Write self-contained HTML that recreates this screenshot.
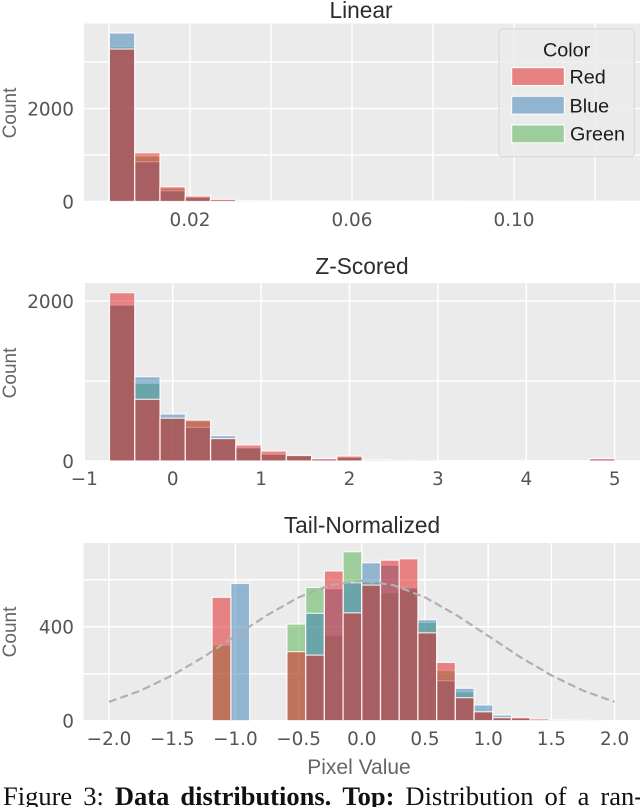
<!DOCTYPE html>
<html lang="en">
<head>
<meta charset="utf-8">
<title>Data distributions</title>
<style>
html,body{margin:0;padding:0;background:#fff;width:640px;height:807px;overflow:hidden}
svg{display:block;filter:blur(0.35px)}
.tick{font-family:"DejaVu Sans","Liberation Sans",sans-serif;font-size:18.4px;fill:#555}
.axis-title{font-family:"Liberation Sans",sans-serif;fill:#666}
.panel-title{font-family:"Liberation Sans",sans-serif;font-size:22.7px;fill:#2c2c2c;text-anchor:middle}
.legend-text{font-family:"Liberation Sans",sans-serif;font-size:19.8px;fill:#1c1c1c}
.caption{font-family:"Liberation Serif",serif;font-size:26.5px;word-spacing:4.4px;fill:#111}
</style>
</head>
<body>
<svg id="figure" xmlns="http://www.w3.org/2000/svg" width="640" height="807" viewBox="0 0 640 807">
  <g id="linear"></g>
  <g id="zscored"></g>
  <g id="tail"></g>

  <g>
    <rect x="499" y="29" width="135.3" height="127.7" rx="3.5" fill="#ebebeb" fill-opacity="0.85" stroke="#d6d6d6" stroke-width="1"/>
    <text class="legend-text" x="566.6" y="56.7" text-anchor="middle">Color</text>
    <rect x="511.7" y="67.7" width="52.6" height="17.8" fill="#e78282" stroke="#fff" stroke-width="1"/>
    <text class="legend-text" x="569.5" y="83.3">Red</text>
    <rect x="511.7" y="96.3" width="52.6" height="17.8" fill="#91b4d1" stroke="#fff" stroke-width="1"/>
    <text class="legend-text" x="569.5" y="112.4">Blue</text>
    <rect x="511.7" y="125" width="52.6" height="17.8" fill="#9ccd9a" stroke="#fff" stroke-width="1"/>
    <text class="legend-text" x="570" y="140.6">Green</text>
  </g>

  <text class="axis-title" x="359" y="774" font-size="21" text-anchor="middle">Pixel Value</text>
  <text class="caption" x="3" y="805" xml:space="preserve">Figure 3: <tspan font-weight="bold">Data distributions.</tspan> <tspan font-weight="bold">Top:</tspan> Distribution of a ran-</text>
</svg>

<script>
// ---- Linear panel data ----
const linearRed   = [3279, 1049, 318, 118, 47, 15, 4, 2, 1, 1, 1, 1, 1, 1, 0, 1, 0, 1, 0, 1];
const linearBlue  = [3623,  856, 232,  90, 35, 10, 3, 2, 1, 1, 0, 1, 1, 0, 1, 0, 1, 0, 0, 0];
const linearGreen = [3328,  978, 290, 105, 40, 12, 3, 2, 1, 1, 1, 0, 1, 1, 0, 0, 1, 0, 1, 0];
const linearXTicks = [0.02, 0.06, 0.10];
const linearXTickLabels = ["0.02", "0.06", "0.10"];
const linearXGrid = [0, 0.02, 0.04, 0.06, 0.08, 0.10, 0.12];
const linearYTicks = [0, 2000];
const linearYTickLabels = ["0", "2000"];
const linearYGrid = [0, 1000, 2000, 3000];

// ---- Z-scored panel data ----
const zRed   = [2104, 771, 535, 512, 280, 200, 125, 70, 28, 62, 15, 10, 9, 2, 1, 1, 1, 1, 1, 28];
const zBlue  = [1950, 1054, 587, 421, 317, 165, 83, 66, 26, 46, 13, 1, 1, 1, 2, 1, 0, 1, 1, 26];
const zGreen = [1950, 971, 542, 500, 285, 171, 96, 66, 26, 46, 13, 1, 1, 2, 1, 1, 1, 1, 1, 26];
const zXTicks = [-1, 0, 1, 2, 3, 4, 5];
const zXTickLabels = ["\u22121", "0", "1", "2", "3", "4", "5"];
const zXGrid = [0, 1, 2, 3, 4, 5];
const zYTicks = [0, 2000];
const zYTickLabels = ["0", "2000"];
const zYGrid = [0, 1000, 2000];

// ---- Tail-normalized panel data ----
const tailRed   = [525, 0, 0, 0, 294, 279, 637, 459, 577, 683, 689, 374, 248, 98, 38, 13, 14, 8, 3, 2, 1, 0];
const tailBlue  = [0, 584, 0, 0, 0, 457, 562, 587, 672, 662, 567, 430, 170, 138, 67, 24, 10, 1, 2, 1, 0, 0];
const tailGreen = [322, 0, 0, 0, 411, 567, 364, 719, 591, 545, 560, 418, 213, 123, 38, 13, 10, 1, 3, 1, 1, 0];
const tailXTicks = [-2, -1.5, -1, -0.5, 0, 0.5, 1, 1.5, 2];
const tailXTickLabels = ["\u22122.0", "\u22121.5", "\u22121.0", "\u22120.5", "0.0", "0.5", "1.0", "1.5", "2.0"];
const tailYTicks = [0, 400];
const tailYTickLabels = ["0", "400"];
const tailYGrid = [0, 200, 400, 600];
const referenceCurveX = [-2, -1.75, -1.5, -1.25, -1, -0.75, -0.5, -0.25, 0, 0.25, 0.5, 0.75, 1, 1.25, 1.5, 1.75, 2];
const referenceCurveY = [80, 128, 193, 272, 361, 449, 525, 577, 595, 577, 525, 449, 361, 272, 193, 128, 80];

const SVGNS = "http://www.w3.org/2000/svg";

function make(parent, tag, attrs) {
  const el = document.createElementNS(SVGNS, tag);
  for (const k in attrs) el.setAttribute(k, attrs[k]);
  parent.appendChild(el);
  return el;
}

function drawPanel(p) {
  const g = document.getElementById(p.id);

  const bg = make(g, "rect", { x: p.left, y: p.top, width: 640 - p.left, height: p.bottom - p.top, fill: "#ebebeb" });
  
  

  p.xGrid.forEach(function (v) {
    const line = make(g, "line", { x1: p.x(v), x2: p.x(v), y1: p.top, y2: p.bottom, stroke: "#fff", "stroke-width": 1.5 });
    
    
  });
  p.yGrid.forEach(function (v) {
    const line = make(g, "line", { x1: p.left, x2: 640, y1: p.y(v), y2: p.y(v), stroke: "#fff", "stroke-width": 1.5 });
    
    
  });

  const layers = [
    { name: "green", color: "#4daf4a", values: p.green },
    { name: "blue", color: "#377eb8", values: p.blue },
    { name: "red", color: "#e41a1c", values: p.red }
  ];
  layers.forEach(function (layer) {
    layer.values.forEach(function (count, i) {
      if (count <= 0) return;
      const x0 = p.x(p.binStart + i * p.binWidth);
      const x1 = p.x(p.binStart + (i + 1) * p.binWidth);
      const bar = make(g, "rect", {
        x: x0, y: p.y(count), width: x1 - x0, height: p.y(0) - p.y(count),
        fill: layer.color, "fill-opacity": 0.5, stroke: "#fff", "stroke-opacity": 0.8, "stroke-width": 1.2
      });
      
      
    });
  });

  p.xTicks.forEach(function (v, i) {
    const t = make(g, "text", { class: "tick", x: p.x(v), y: p.xLabelY, "text-anchor": "middle" });
    
    
    t.textContent = p.xLabels[i];
  });
  p.yTicks.forEach(function (v, i) {
    const t = make(g, "text", { class: "tick", x: 74, y: p.y(v) + 7, "text-anchor": "end" });
    
    
    t.textContent = p.yLabels[i];
  });

  const yTitle = make(g, "text", { class: "axis-title", "font-size": 19, "text-anchor": "middle", transform: "translate(16," + p.countY + ") rotate(-90)" });
  
  
  yTitle.textContent = "Count";

  const title = make(g, "text", { class: "panel-title", x: p.titleX, y: p.titleY });
  
  
  title.textContent = p.title;
}

const linearX = function (v) { return 109 + v * 4050; };
const linearY = function (v) { return 201.5 - v * 0.0465; };
const zX = function (v) { return 172.7 + v * 88.4; };
const zY = function (v) { return 461 - v * 0.08; };
const tailX = function (v) { return 361.8 + v * 126.4; };
const tailY = function (v) { return 720.7 - v * 0.235; };

drawPanel({
  id: "linear", title: "Linear", titleX: 361, titleY: 18,
  left: 84, top: 23.5, bottom: 201.5, x: linearX, y: linearY,
  red: linearRed, blue: linearBlue, green: linearGreen,
  binStart: 0.0001, binWidth: 0.00624,
  xTicks: linearXTicks, xLabels: linearXTickLabels, xGrid: linearXGrid,
  yTicks: linearYTicks, yLabels: linearYTickLabels, yGrid: linearYGrid,
  xLabelY: 226, countY: 113
});

drawPanel({
  id: "zscored", title: "Z-Scored", titleX: 362, titleY: 274,
  left: 85, top: 283, bottom: 461, x: zX, y: zY,
  red: zRed, blue: zBlue, green: zGreen,
  binStart: -0.715, binWidth: 0.2858,
  xTicks: zXTicks, xLabels: zXTickLabels, xGrid: zXGrid,
  yTicks: zYTicks, yLabels: zYTickLabels, yGrid: zYGrid,
  xLabelY: 485, countY: 373
});

drawPanel({
  id: "tail", title: "Tail-Normalized", titleX: 362, titleY: 533,
  left: 83.5, top: 543, bottom: 720.7, x: tailX, y: tailY,
  red: tailRed, blue: tailBlue, green: tailGreen,
  binStart: -1.184, binWidth: 0.148,
  xTicks: tailXTicks, xLabels: tailXTickLabels, xGrid: tailXTicks,
  yTicks: tailYTicks, yLabels: tailYTickLabels, yGrid: tailYGrid,
  xLabelY: 745, countY: 632
});

const curvePoints = referenceCurveX.map(function (v, i) {
  return tailX(v).toFixed(2) + "," + tailY(referenceCurveY[i]).toFixed(2);
}).join(" ");
const curve = make(document.getElementById("tail"), "polyline", {
  points: curvePoints, fill: "none", stroke: "#b0b0b0", "stroke-width": 2.2, "stroke-dasharray": "8 4"
});


</script>
</body>
</html>
